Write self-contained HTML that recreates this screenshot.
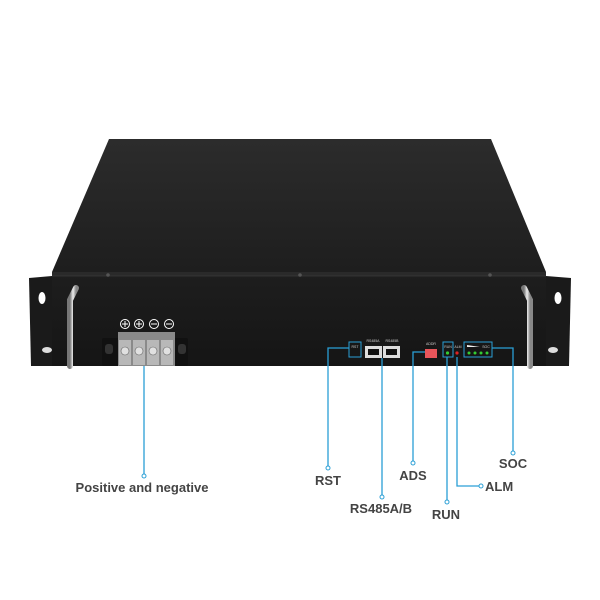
<!DOCTYPE html>
<html><head><meta charset="utf-8"><style>html,body{margin:0;padding:0;background:#fff}svg{display:block}</style></head>
<body>
<svg width="600" height="600" viewBox="0 0 600 600" xmlns="http://www.w3.org/2000/svg" font-family="Liberation Sans, sans-serif">
<defs>
<linearGradient id="top" x1="0" y1="0" x2="0" y2="1"><stop offset="0" stop-color="#2c2c2c"/><stop offset="1" stop-color="#1e1e1e"/></linearGradient>
<linearGradient id="front" x1="0" y1="0" x2="0" y2="1"><stop offset="0" stop-color="#1e1e1e"/><stop offset="1" stop-color="#151515"/></linearGradient>
<linearGradient id="hdl" x1="0" y1="0" x2="1" y2="0"><stop offset="0" stop-color="#777"/><stop offset="0.5" stop-color="#eee"/><stop offset="1" stop-color="#888"/></linearGradient>
</defs>
<!-- top face -->
<polygon points="109,139 491,139 546,272 52,272" fill="url(#top)"/>
<!-- ears -->
<polygon points="29,278 52,276 52,366 31,366" fill="#1a1a1a"/>
<polygon points="546,276 571,278 569,366 546,366" fill="#1a1a1a"/>
<ellipse cx="42" cy="298" rx="3.5" ry="6" fill="#fff"/>
<ellipse cx="47" cy="350" rx="5" ry="3" fill="#ddd"/>
<ellipse cx="558" cy="298" rx="3.5" ry="6" fill="#fff"/>
<ellipse cx="553" cy="350" rx="5" ry="3" fill="#ddd"/>
<!-- front -->
<rect x="52" y="272" width="494" height="94" fill="url(#front)"/>
<rect x="52" y="272" width="494" height="4" fill="#2a2a2a"/>
<line x1="52" y1="276" x2="546" y2="276" stroke="#3a3a3a" stroke-width="0.8"/>
<circle cx="108" cy="275" r="1.8" fill="#555"/><circle cx="300" cy="275" r="1.8" fill="#555"/><circle cx="490" cy="275" r="1.8" fill="#555"/>
<!-- handles -->
<path d="M76,288 L70,300 L70,366" stroke="url(#hdl)" stroke-width="6" fill="none" stroke-linecap="round"/>
<path d="M524,288 L530,300 L530,366" stroke="url(#hdl)" stroke-width="6" fill="none" stroke-linecap="round"/>
<!-- terminal block -->
<rect x="102" y="338" width="86" height="28" rx="2" fill="#111"/>
<rect x="118" y="332" width="57" height="34" fill="#8a8a8a"/>
<g fill="#b8b8b8">
<rect x="119" y="340" width="12" height="25"/><rect x="133" y="340" width="12" height="25"/><rect x="147" y="340" width="12" height="25"/><rect x="161" y="340" width="12" height="25"/></g>
<g fill="#e0e0e0" stroke="#666" stroke-width="0.6">
<circle cx="125" cy="351" r="4"/><circle cx="139" cy="351" r="4"/><circle cx="153" cy="351" r="4"/><circle cx="167" cy="351" r="4"/></g>
<rect x="105" y="344" width="8" height="10" rx="3" fill="#333"/><rect x="178" y="344" width="8" height="10" rx="3" fill="#333"/>
<g fill="none" stroke="#fff" stroke-width="1"><circle cx="125" cy="324" r="4.5"/><circle cx="139" cy="324" r="4.5"/><circle cx="154" cy="324" r="4.5"/><circle cx="169" cy="324" r="4.5"/>
<path d="M122,324h6M125,321v6M136,324h6M139,321v6M151,324h6M166,324h6"/></g>
<!-- panel -->
<rect x="349" y="342" width="12" height="15" fill="none" stroke="#2a9fd6" stroke-width="1"/>
<text x="355" y="348" font-size="3.5" fill="#ccc" text-anchor="middle">RST</text>
<text x="373" y="342" font-size="3.5" fill="#ccc" text-anchor="middle">RS485A</text>
<text x="392" y="342" font-size="3.5" fill="#ccc" text-anchor="middle">RS485B</text>
<rect x="365" y="346" width="17" height="12" fill="#ddd"/><rect x="383" y="346" width="17" height="12" fill="#ddd"/>
<rect x="368" y="349" width="11" height="6" fill="#111"/><rect x="386" y="349" width="11" height="6" fill="#111"/>
<text x="431" y="345" font-size="3.5" fill="#ccc" text-anchor="middle">ADDR</text>
<rect x="425" y="349" width="12" height="9" fill="#e8555a"/>
<rect x="443" y="342" width="10" height="15" fill="none" stroke="#2a9fd6" stroke-width="1"/>
<text x="448" y="348" font-size="3.5" fill="#ccc" text-anchor="middle">RUN</text>
<circle cx="447.5" cy="353" r="1.6" fill="#3c3"/>
<text x="458" y="348" font-size="3.5" fill="#ccc" text-anchor="middle">ALM</text>
<circle cx="457" cy="353" r="1.6" fill="#d22"/>
<rect x="464" y="342" width="28" height="15" fill="none" stroke="#2a9fd6" stroke-width="1"/>
<polygon points="467,345 480,347 467,347" fill="#eee"/>
<text x="486" y="348" font-size="3.5" fill="#ccc" text-anchor="middle">SOC</text>
<g fill="#3c3"><circle cx="469" cy="353" r="1.5"/><circle cx="475" cy="353" r="1.5"/><circle cx="481" cy="353" r="1.5"/><circle cx="487" cy="353" r="1.5"/></g>
<!-- leader lines -->
<g stroke="#2a9fd6" stroke-width="1.3" fill="none">
<path d="M144,366 V474"/>
<path d="M349,348 H328 V466"/>
<path d="M382,358 V495"/>
<path d="M425,352 H413 V461"/>
<path d="M447,357 V500"/>
<path d="M457,357 V486 H479"/>
<path d="M492,348 H513 V451"/>
</g>
<g fill="#fff" stroke="#2a9fd6" stroke-width="1">
<circle cx="144" cy="476" r="2"/><circle cx="328" cy="468" r="2"/><circle cx="382" cy="497" r="2"/><circle cx="413" cy="463" r="2"/><circle cx="447" cy="502" r="2"/><circle cx="481" cy="486" r="2"/><circle cx="513" cy="453" r="2"/></g>
<g font-size="13" font-weight="bold" fill="#444">
<text x="142" y="492" text-anchor="middle">Positive and negative</text>
<text x="328" y="485" text-anchor="middle">RST</text>
<text x="381" y="513" text-anchor="middle">RS485A/B</text>
<text x="413" y="480" text-anchor="middle">ADS</text>
<text x="446" y="519" text-anchor="middle">RUN</text>
<text x="485" y="491">ALM</text>
<text x="513" y="468" text-anchor="middle">SOC</text>
</g>
</svg>
</body></html>
